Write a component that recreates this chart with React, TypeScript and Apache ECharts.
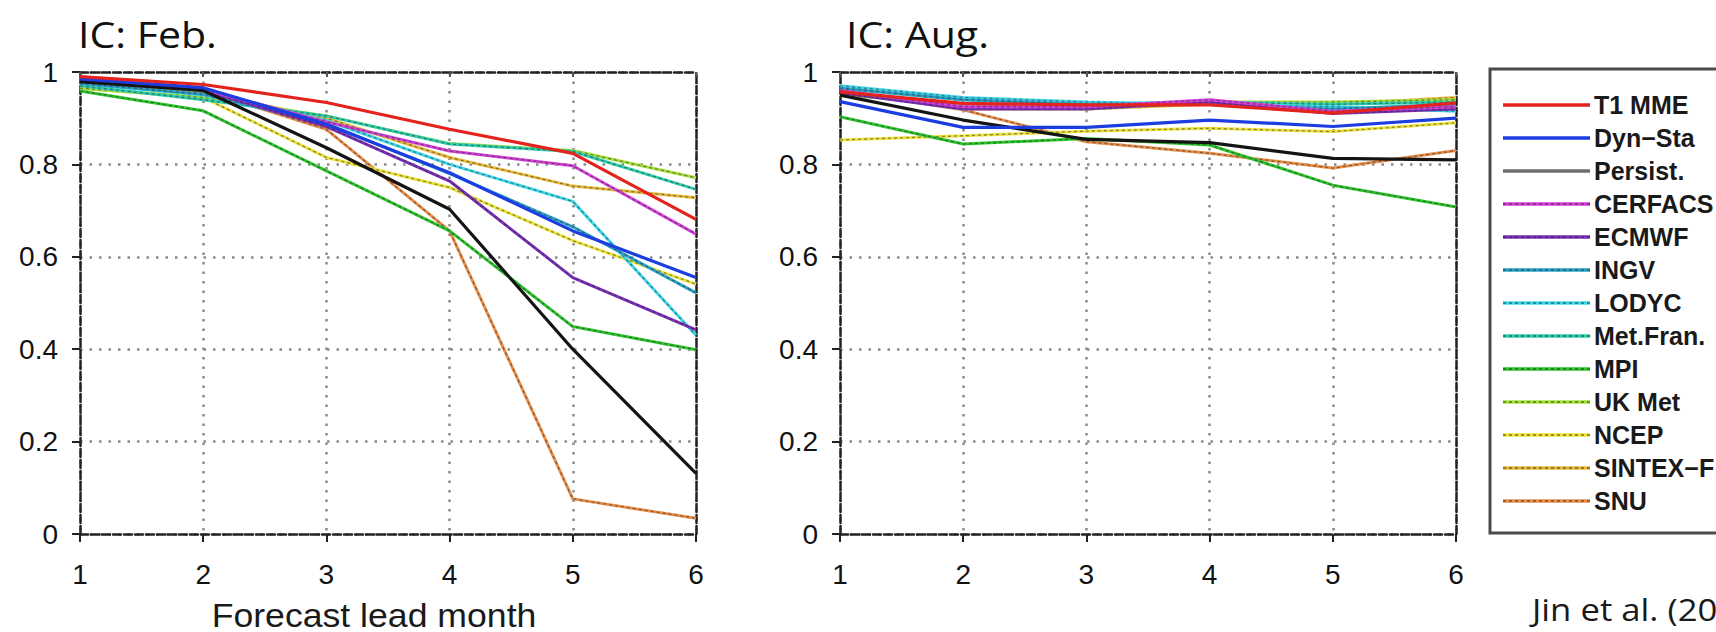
import React, { useEffect, useRef } from "react";
import * as echarts from "echarts";

// ---------- data ----------
const MONTHS = [1, 2, 3, 4, 5, 6];
const Y_MIN = 0;
const Y_MAX = 1;
const Y_STEP = 0.2;

const SERIES_NAMES = [
  "T1 MME", "Dyn\u2212Sta", "Persist.", "CERFACS", "ECMWF", "INGV", "LODYC",
  "Met.Fran.", "MPI", "UK Met", "NCEP", "SINTEX\u2212F", "SNU",
];

// IC: Feb.
const FEB_T1_MME = [0.99, 0.973, 0.934, 0.876, 0.824, 0.681];
const FEB_DYN_STA = [0.985, 0.966, 0.887, 0.782, 0.656, 0.555];
const FEB_PERSIST = [0.979, 0.96, 0.836, 0.703, 0.4, 0.131];
const FEB_CERFACS = [0.985, 0.962, 0.892, 0.829, 0.797, 0.649];
const FEB_ECMWF = [0.982, 0.96, 0.882, 0.764, 0.555, 0.442];
const FEB_INGV = [0.975, 0.952, 0.888, 0.78, 0.665, 0.522];
const FEB_LODYC = [0.975, 0.95, 0.895, 0.8, 0.72, 0.43];
const FEB_METFRAN = [0.97, 0.94, 0.905, 0.844, 0.828, 0.746];
const FEB_MPI = [0.959, 0.916, 0.786, 0.656, 0.449, 0.399];
const FEB_UKMET = [0.965, 0.945, 0.905, 0.845, 0.83, 0.771];
const FEB_NCEP = [0.965, 0.945, 0.815, 0.75, 0.635, 0.541];
const FEB_SINTEXF = [0.975, 0.955, 0.9, 0.815, 0.753, 0.728];
const FEB_SNU = [0.975, 0.96, 0.876, 0.656, 0.076, 0.034];

// IC: Aug.
const AUG_T1_MME = [0.957, 0.932, 0.929, 0.929, 0.911, 0.933];
const AUG_DYN_STA = [0.936, 0.88, 0.88, 0.896, 0.882, 0.9];
const AUG_PERSIST = [0.95, 0.896, 0.854, 0.847, 0.813, 0.81];
const AUG_CERFACS = [0.96, 0.925, 0.925, 0.94, 0.915, 0.925];
const AUG_ECMWF = [0.955, 0.92, 0.92, 0.935, 0.91, 0.92];
const AUG_INGV = [0.965, 0.94, 0.93, 0.93, 0.92, 0.93];
const AUG_LODYC = [0.97, 0.945, 0.935, 0.93, 0.925, 0.915];
const AUG_METFRAN = [0.965, 0.94, 0.93, 0.935, 0.93, 0.935];
const AUG_MPI = [0.903, 0.844, 0.856, 0.842, 0.755, 0.708];
const AUG_UKMET = [0.95, 0.93, 0.92, 0.935, 0.935, 0.94];
const AUG_NCEP = [0.853, 0.862, 0.872, 0.878, 0.871, 0.89];
const AUG_SINTEXF = [0.96, 0.92, 0.92, 0.93, 0.93, 0.945];
const AUG_SNU = [0.96, 0.918, 0.849, 0.824, 0.792, 0.83];

const FEB_VALUES = [
  FEB_T1_MME, FEB_DYN_STA, FEB_PERSIST, FEB_CERFACS, FEB_ECMWF, FEB_INGV, FEB_LODYC,
  FEB_METFRAN, FEB_MPI, FEB_UKMET, FEB_NCEP, FEB_SINTEXF, FEB_SNU,
];
const AUG_VALUES = [
  AUG_T1_MME, AUG_DYN_STA, AUG_PERSIST, AUG_CERFACS, AUG_ECMWF, AUG_INGV, AUG_LODYC,
  AUG_METFRAN, AUG_MPI, AUG_UKMET, AUG_NCEP, AUG_SINTEXF, AUG_SNU,
];

const PANEL_TITLES = ["IC: Feb.", "IC: Aug."];
const X_AXIS_TITLE = "Forecast lead month";
const CITATION = "Jin et al. (2008)";

// ---------- styles ----------
const COLORS = [
  "#e3231c", "#1c3ee0", "#141414", "#d340d8", "#7a2fb8", "#2aa2c8", "#3fd8ea",
  "#2fcfae", "#2ec42e", "#a6e03c", "#ece33c", "#e8bb3c", "#e98f4a",
];
const LEGEND_COLORS = [
  "#e3231c", "#1c3ee0", "#6e6e6e", "#d340d8", "#7a2fb8", "#2aa2c8", "#3fd8ea",
  "#2fcfae", "#2ec42e", "#a6e03c", "#ece33c", "#e8bb3c", "#e98f4a",
];
const SOLID = [true, true, true, false, false, false, false, false, false, false, false, false, false];

const GRID_LEFTS = [80, 840];
const GRID_TOP = 72;
const GRID_W = 616;
const GRID_H = 462;
const AXIS_COLOR = "#222";
const DASH = [8, 3];

function App() {
  const ref = useRef<HTMLDivElement>(null);

  useEffect(() => {
    if (!ref.current) return;
    const chart = echarts.init(ref.current, null, { renderer: "svg" });

    const grids = GRID_LEFTS.map((l) => ({ left: l, top: GRID_TOP, width: GRID_W, height: GRID_H }));

    const xAxes: any[] = [];
    const yAxes: any[] = [];
    GRID_LEFTS.forEach((_, g) => {
      xAxes.push({
        type: "value", gridIndex: g, min: MONTHS[0], max: MONTHS[MONTHS.length - 1], interval: 1,
        axisLine: { show: true, onZero: false, lineStyle: { color: AXIS_COLOR, width: 2.5, type: DASH } },
        axisTick: { show: true, length: 8, lineStyle: { color: AXIS_COLOR, width: 2 } },
        axisLabel: { fontSize: 28, color: "#111", margin: 26, fontFamily: "Liberation Sans" },
        splitLine: { show: true, lineStyle: { color: "#8a8a8a", width: 2.5, type: [2.5, 7] } },
      });
      xAxes.push({
        type: "value", gridIndex: g, position: "top", min: MONTHS[0], max: MONTHS[MONTHS.length - 1], interval: 1,
        axisLine: { show: true, onZero: false, lineStyle: { color: AXIS_COLOR, width: 2.5, type: DASH } },
        axisTick: { show: true, inside: true, length: 5, lineStyle: { color: "#555", width: 2 } },
        axisLabel: { show: false },
        splitLine: { show: false },
      });
      yAxes.push({
        type: "value", gridIndex: g, min: Y_MIN, max: Y_MAX, interval: Y_STEP,
        axisLine: { show: true, onZero: false, lineStyle: { color: AXIS_COLOR, width: 2.5, type: DASH } },
        axisTick: { show: true, length: 8, lineStyle: { color: AXIS_COLOR, width: 2 } },
        axisLabel: { fontSize: 28, color: "#111", margin: 22, fontFamily: "Liberation Sans" },
        splitLine: { show: true, lineStyle: { color: "#8a8a8a", width: 2.5, type: [2.5, 7] } },
      });
      yAxes.push({
        type: "value", gridIndex: g, position: "right", min: Y_MIN, max: Y_MAX, interval: Y_STEP,
        axisLine: { show: true, onZero: false, lineStyle: { color: AXIS_COLOR, width: 2.5, type: DASH } },
        axisTick: { show: false },
        axisLabel: { show: false },
        splitLine: { show: false },
      });
    });

    const series: any[] = [];
    const panels = [FEB_VALUES, AUG_VALUES];
    // draw order: models first, then persist, dyn-sta, MME on top
    const order = [12, 11, 10, 9, 8, 7, 6, 5, 4, 3, 2, 1, 0];
    panels.forEach((vals, g) => {
      order.forEach((k) => {
        const data = MONTHS.map((m, i) => [m, vals[k][i]]);
        series.push({
          type: "line", name: SERIES_NAMES[k], xAxisIndex: g * 2, yAxisIndex: g * 2,
          data, symbol: "none", silent: true,
          lineStyle: { color: COLORS[k], width: SOLID[k] ? 3.2 : 3 },
          z: 3,
        });
        if (!SOLID[k]) {
          series.push({
            type: "line", name: SERIES_NAMES[k] + " dash", xAxisIndex: g * 2, yAxisIndex: g * 2,
            data, symbol: "none", silent: true,
            lineStyle: { color: "rgba(40,40,40,0.5)", width: 1.3, type: [3, 3] },
            z: 3,
          });
        }
      });
    });

    const graphics: any[] = [];
    PANEL_TITLES.forEach((t, g) => {
      graphics.push({
        type: "text", x: g === 0 ? 78 : 846, y: 34, scaleX: 1.14,
        style: { text: t, fontSize: 36, fontFamily: "Open Sans", fill: "#111", verticalAlign: "middle", align: "left" },
      });
    });
    graphics.push({
      type: "text", x: 374, y: 615, scaleX: 1.08,
      style: { text: X_AXIS_TITLE, fontSize: 33, fontFamily: "Liberation Sans", fill: "#1a1a1a", verticalAlign: "middle", align: "center" },
    });
    graphics.push({
      type: "text", x: 1532, y: 609, scaleX: 1.12,
      style: { text: CITATION, fontSize: 31, fontFamily: "Open Sans", fill: "#1a1a1a", verticalAlign: "middle", align: "left" },
    });
    graphics.push({
      type: "rect", shape: { x: 1490, y: 69, width: 320, height: 464 },
      style: { fill: "#fff", stroke: "#4a4a4a", lineWidth: 3 },
      z: 1,
    });
    SERIES_NAMES.forEach((n, i) => {
      const cy = 105 + 33 * i;
      graphics.push({
        type: "line", shape: { x1: 1503, y1: cy, x2: 1590, y2: cy },
        style: { stroke: LEGEND_COLORS[i], lineWidth: 3.5 }, z: 2,
      });
      if (!SOLID[i]) {
        graphics.push({
          type: "line", shape: { x1: 1503, y1: cy, x2: 1590, y2: cy },
          style: { stroke: "rgba(40,40,40,0.6)", lineWidth: 1.5, lineDash: [3, 3] }, z: 3,
        });
      }
      graphics.push({
        type: "text", x: 1594, y: cy,
        style: { text: n, fontSize: 25, fontWeight: "bold", fontFamily: "Liberation Sans", fill: "#1a1a1a", verticalAlign: "middle", align: "left" },
        z: 3,
      });
    });

    chart.setOption({
      animation: false,
      backgroundColor: "#fff",
      grid: grids,
      xAxis: xAxes,
      yAxis: yAxes,
      series,
      graphic: graphics,
    });

    return () => chart.dispose();
  }, []);

  return (
    <div
      ref={ref}
      style={{ position: "absolute", left: 0, top: 0, width: 1716, height: 632 }}
    />
  );
}

export default App;
